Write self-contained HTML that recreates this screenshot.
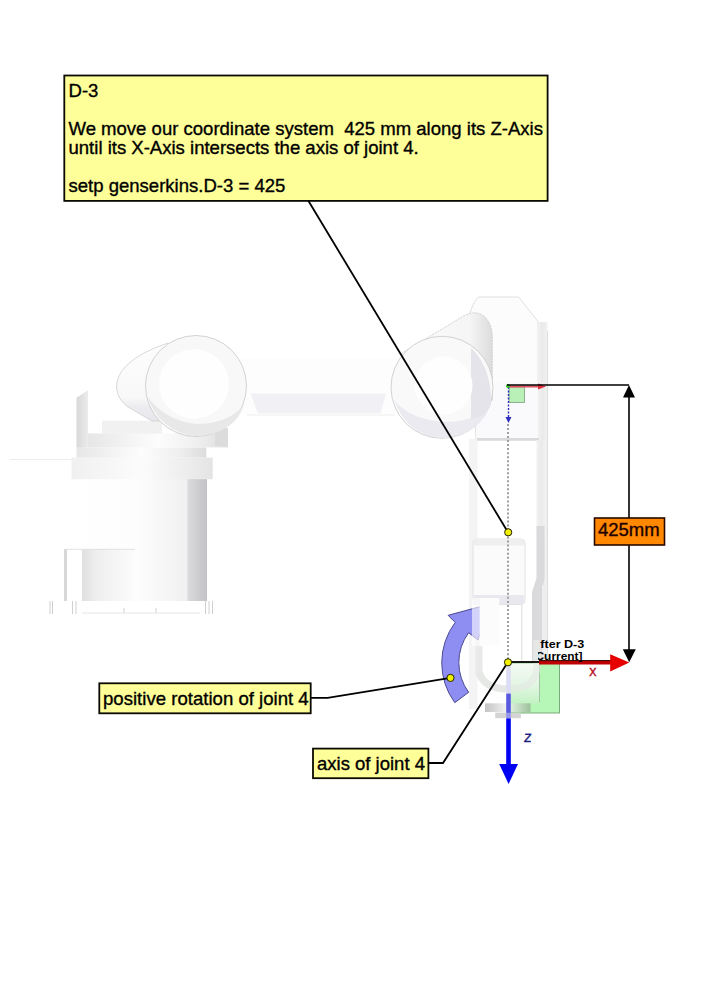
<!DOCTYPE html>
<html><head><meta charset="utf-8">
<style>
html,body{margin:0;padding:0;background:#fff;width:707px;height:1000px;overflow:hidden;}
svg{display:block;position:absolute;left:0;top:0;}
text{font-family:"Liberation Sans",sans-serif;}
</style></head><body>
<svg width="707" height="1000" viewBox="0 0 707 1000">
<defs>

<linearGradient id="colG" x1="0" x2="1" y1="0" y2="0">
  <stop offset="0" stop-color="#ffffff"/>
  <stop offset="0.5" stop-color="#fdfdfd"/>
  <stop offset="0.85" stop-color="#f0f0f0"/>
  <stop offset="0.862" stop-color="#dadadc"/>
  <stop offset="0.96" stop-color="#c9c9cd"/>
  <stop offset="1" stop-color="#c4c4c8"/>
</linearGradient>
<linearGradient id="bandG" x1="0" x2="1" y1="0" y2="0">
  <stop offset="0" stop-color="#e6e6e6"/>
  <stop offset="0.3" stop-color="#f4f4f4"/>
  <stop offset="0.5" stop-color="#fdfdfd"/>
  <stop offset="0.8" stop-color="#eeeeee"/>
  <stop offset="1" stop-color="#dcdcdc"/>
</linearGradient>
<linearGradient id="band2G" x1="0" x2="1" y1="0" y2="0">
  <stop offset="0" stop-color="#f0f0f0"/>
  <stop offset="0.5" stop-color="#fcfcfc"/>
  <stop offset="1" stop-color="#e4e4e4"/>
</linearGradient>
<linearGradient id="blkG" x1="0" x2="1" y1="0" y2="0">
  <stop offset="0" stop-color="#d8d8d8"/>
  <stop offset="0.04" stop-color="#d8d8d8"/>
  <stop offset="0.045" stop-color="#ffffff"/>
  <stop offset="0.25" stop-color="#ffffff"/>
  <stop offset="0.255" stop-color="#e0e0e0"/>
  <stop offset="0.45" stop-color="#eeeeee"/>
  <stop offset="1" stop-color="#fcfcfc"/>
</linearGradient>
<linearGradient id="brkG" x1="0" x2="1" y1="0" y2="0">
  <stop offset="0" stop-color="#d8d8d8"/>
  <stop offset="1" stop-color="#ececec"/>
</linearGradient>
<linearGradient id="armG" x1="0" x2="0" y1="0" y2="1">
  <stop offset="0" stop-color="#f7f7f7"/>
  <stop offset="1" stop-color="#e9e9e9"/>
</linearGradient>
<radialGradient id="ringG" cx="0.42" cy="0.4" r="0.6">
  <stop offset="0" stop-color="#ffffff"/>
  <stop offset="0.6" stop-color="#fbfbfb"/>
  <stop offset="1" stop-color="#eaeaea"/>
</radialGradient>
<linearGradient id="capG" x1="0" x2="0" y1="0" y2="1">
  <stop offset="0" stop-color="#fdfdfd"/>
  <stop offset="0.7" stop-color="#f8f8f8"/>
  <stop offset="0.82" stop-color="#ececf0"/>
  <stop offset="1" stop-color="#e6e6ec"/>
</linearGradient>
<linearGradient id="capRG" x1="0" x2="1" y1="0" y2="0">
  <stop offset="0" stop-color="#fdfdfd"/>
  <stop offset="0.75" stop-color="#f5f5f5"/>
  <stop offset="1" stop-color="#dcdcdc"/>
</linearGradient>
<linearGradient id="railG" x1="0" x2="1" y1="0" y2="0">
  <stop offset="0" stop-color="#f2f2f2"/>
  <stop offset="0.5" stop-color="#eaeaea"/>
  <stop offset="1" stop-color="#f2f2f2"/>
</linearGradient>
<linearGradient id="plateG" x1="0" x2="1" y1="0" y2="0">
  <stop offset="0" stop-color="#c4c4c4"/>
  <stop offset="0.45" stop-color="#efefef"/>
  <stop offset="0.6" stop-color="#d8ecd8"/>
  <stop offset="1" stop-color="#9cc09c"/>
</linearGradient>


<clipPath id="lblclip"><rect x="538" y="630" width="100" height="40"/></clipPath>
</defs>
<rect x="0" y="0" width="707" height="1000" fill="#fff"/>

<!-- ROBOT -->
<g id="robot">
<!-- faint thin line far left -->
<line x1="10" y1="459.5" x2="76" y2="459.5" stroke="#ececec" stroke-width="1"/>
<!-- middle horizontal arm -->
<rect x="240" y="358" width="160" height="57" fill="#fdfdfd"/>
<polygon points="250.6,393.4 386,393.4 380.4,413.3 257.8,413.3" fill="#f1f1f5"/>
<line x1="247" y1="415" x2="395" y2="415" stroke="#ededed" stroke-width="1"/>

<!-- LEFT BASE -->
<!-- column -->
<rect x="71" y="479" width="136" height="122" fill="url(#colG)"/>
<!-- lower block -->
<rect x="64" y="549" width="71" height="52" fill="url(#blkG)"/>
<line x1="64" y1="549.3" x2="135" y2="549.3" stroke="#e2e2e2" stroke-width="1"/>
<!-- feet -->
<g stroke="#d0d0d0" stroke-width="1">
<line x1="50" y1="601" x2="50" y2="614"/><line x1="52.5" y1="601" x2="52.5" y2="614"/>
<line x1="72.5" y1="601" x2="72.5" y2="614"/><line x1="76" y1="601" x2="76" y2="614"/>
<line x1="124" y1="608" x2="124" y2="613"/><line x1="156" y1="608" x2="156" y2="613"/>
<line x1="205.5" y1="601" x2="205.5" y2="614"/><line x1="209" y1="601" x2="209" y2="614"/><line x1="212.5" y1="601" x2="212.5" y2="614"/>
</g>
<line x1="82" y1="613" x2="200" y2="613" stroke="#e6e6e6" stroke-width="1"/>
<!-- bands -->
<rect x="71.5" y="457.6" width="141.2" height="21.6" fill="url(#band2G)"/>
<rect x="76.5" y="447.4" width="129.8" height="10.2" fill="url(#bandG)"/>
<!-- step / shoulder -->
<rect x="88" y="433.4" width="140" height="14" fill="url(#bandG)"/>
<rect x="102" y="420.7" width="60" height="13" fill="#f1f1f1"/>
<!-- bracket -->
<polygon points="76.5,397.8 88,390.2 88,447.4 76.5,447.4" fill="url(#brkG)"/>
<!-- block right of ring -->
<rect x="215" y="428" width="13" height="18" fill="#dcdcdc"/>

<!-- left capsule -->
<path d="M168,343 Q140,352 126,366 Q116,376 116.5,388 Q118,400 128,407 L152,421 L200,420 Z" fill="url(#capG)" stroke="#cfcfcf" stroke-width="0.8"/>
<!-- left ring -->
<circle cx="196" cy="386" r="50.5" fill="#f8f8f8" stroke="#c8c8c8" stroke-width="0.8"/>
<path d="M147,396 Q160,432 196,436.3 Q234,434 244,405 Q228,424 196,424 Q164,420 147,396 Z" fill="#e8e8e8"/>
<circle cx="194" cy="384" r="35" fill="#fefefe"/>

<!-- RIGHT UPPER HOUSING -->
<path d="M470,313 Q474,300 479,297 L518.6,297 L538,321.5 L538,440 L476,440 Z" fill="#fcfcfc" stroke="#e0e0e0" stroke-width="1"/>
<rect x="537.5" y="322" width="10" height="338" fill="url(#railG)"/>
<line x1="547.5" y1="331" x2="547.5" y2="660" stroke="#d6d6d6" stroke-width="0.8"/>
<rect x="476" y="382" width="62" height="56" fill="#fafafc"/>
<!-- right capsule -->
<path d="M401.5,353.5 L463,316.3 Q476,309 485,317 Q492,324 492.3,336 L492.3,400 L440,436 Z" fill="url(#capRG)" stroke="#c8c8c8" stroke-width="0.8" stroke-dasharray="2 1"/>
<!-- right ring -->
<circle cx="442" cy="387.3" r="51" fill="#f9f9fa" stroke="#c8c8c8" stroke-width="0.8"/>
<path d="M394,400 Q408,436 442,438.3 Q478,436 490,405 Q474,422 446,422 Q410,420 394,400 Z" fill="#eaeaf0"/>
<path d="M471,348 Q492,368 491,405 Q482,420 471,418 Z" fill="#e4e4ea"/>
<circle cx="443.5" cy="385.5" r="29" fill="#fefefe"/>

<!-- RIGHT LOWER ARM -->
<rect x="469" y="439" width="8.5" height="270" fill="#f4f4f4"/>
<rect x="477" y="438" width="62" height="2.6" fill="#dadada"/>
<rect x="536.5" y="440" width="9" height="100" fill="url(#railG)"/>
<path d="M536.5,526 L544.5,526 L544.5,578 L542,592 L542,662 L532,662 L532,592 L536.5,578 Z" fill="#dadadc"/>
<rect x="542" y="585" width="3" height="77" fill="#eeeeee"/>
<line x1="521.8" y1="605" x2="521.8" y2="668" stroke="#dcdcdc" stroke-width="1"/>
<!-- wrist box -->
<rect x="473" y="539" width="52" height="65.5" rx="4" fill="#fbfbfb" stroke="#e2e2e2" stroke-width="1"/>
<rect x="474" y="539.5" width="50" height="6" fill="#efefef"/>
<rect x="474" y="595" width="50" height="9" fill="#e8e8ee"/>
<!-- U shape bottom -->
<path d="M537,640 L537,668 Q535,689 508,689 Q484,689 479,672 L479,640" fill="none" stroke="#e9e9e9" stroke-width="7"/>
</g>


<!-- ANNOTATIONS -->
<g id="ann">
<!-- dotted axis line -->
<line x1="508" y1="424" x2="508" y2="660" stroke="#a0a0a0" stroke-width="2" stroke-dasharray="2 2.02"/>

<!-- small top frame -->
<rect x="509" y="387" width="15.5" height="15.5" fill="#b8f0b8" stroke="#7aa07a" stroke-width="0.8"/>
<line x1="508" y1="386.5" x2="541" y2="386.5" stroke="#e05060" stroke-width="2"/>
<path d="M538,383.5 L546,386.5 L538,389.5 Z" fill="#e03040"/>
<line x1="508.5" y1="387" x2="508.5" y2="418" stroke="#3030c0" stroke-width="1.4" stroke-dasharray="2 1.5"/>
<path d="M505.5,417 L511.5,417 L508.5,423 Z" fill="#3030c0"/>
<circle cx="508" cy="386" r="2" fill="#30c030"/>

<!-- dimension line -->
<line x1="507" y1="385" x2="629" y2="385" stroke="#000" stroke-width="1.6"/>
<line x1="629" y1="395" x2="629" y2="650" stroke="#000" stroke-width="1.6"/>
<path d="M629,385 L635,397.5 L623,397.5 Z" fill="#000"/>
<path d="M629.2,662.2 L635.8,649.3 L622.8,649.3 Z" fill="#000"/>

<!-- green frame rect -->
<defs><linearGradient id="gl" x1="0" x2="0" y1="0" y2="1"><stop offset="0" stop-color="#f4faf4"/><stop offset="0.5" stop-color="#e4f6e4"/><stop offset="1" stop-color="#c4f2c4"/></linearGradient></defs>
<rect x="508.5" y="663" width="51" height="50" fill="#b6f6b6" stroke="#72a272" stroke-width="0.9"/>
<rect x="509" y="663.5" width="30.3" height="40" fill="url(#gl)"/>
<line x1="539.5" y1="663" x2="539.5" y2="702" stroke="#9cc09c" stroke-width="0.9"/>
<path d="M537,640 L537,668 Q535,689 508,689 Q484,689 479,672" fill="none" stroke="#e4e8e4" stroke-opacity="0.6" stroke-width="7"/>
<rect x="485" y="703.3" width="45.5" height="8.7" fill="url(#plateG)"/>
<rect x="495.2" y="712.6" width="25.7" height="5.6" fill="#d4d4d4"/>

<!-- X axis -->
<line x1="508" y1="662" x2="540" y2="662" stroke="#000" stroke-width="1.8"/>
<line x1="539" y1="662.5" x2="612" y2="662.5" stroke="#c00000" stroke-width="4"/>
<line x1="539" y1="660.6" x2="612" y2="660.6" stroke="#300000" stroke-width="1"/>
<path d="M610.2,654.3 L629.3,662.5 L610.2,671.4 Z" fill="#e60000"/>
<text x="589.3" y="675.5" font-size="14.5" fill="#b8102a" stroke="#b8102a" stroke-width="0.3">x</text>

<!-- Z axis -->
<rect x="506.2" y="664" width="4.6" height="29.6" fill="#dcdcf4"/>
<rect x="506.2" y="693.6" width="4.6" height="19.3" fill="#5a5ae0"/>
<rect x="506.2" y="712.9" width="4.6" height="5.5" fill="#9494ea"/>
<rect x="506.2" y="718.4" width="4.6" height="48" fill="#0000f2"/>
<path d="M499.2,764 L518,764 L508.6,784 Z" fill="#0000f2"/>
<text x="523.4" y="742" font-size="15.5" fill="#1c1c80" stroke="#1c1c80" stroke-width="0.35" transform="skewX(-6) translate(78 0)">z</text>

<!-- label after D-3 -->
<g clip-path="url(#lblclip)">
<text x="540.3" y="647.6" font-size="10.2" font-weight="bold" fill="#000" textLength="44" lengthAdjust="spacingAndGlyphs">fter D-3</text>
<text x="535.5" y="660.3" font-size="10.2" font-weight="bold" fill="#000" textLength="47" lengthAdjust="spacingAndGlyphs">Current]</text>
</g>

<!-- rotation arrow -->
<path id="rotarrow" d="M454.77,702.63 A67.3,67.3 0 0 1 455.2,622.4 L448.1,615.3 L490,604 L478,640 L468.66,632.69 A50,50 0 0 0 468.66,692.31 Z" fill="#8e8ef2" stroke="#4a4a90" stroke-width="1"/>
<rect x="472" y="598" width="7.3" height="48" fill="#fff" fill-opacity="0.6"/>
<rect x="479.3" y="598" width="20" height="48" fill="#fcfcfc"/>

<!-- main callout -->
<rect x="64.3" y="75.5" width="483.3" height="125.4" fill="#ffff99" stroke="#0a0a00" stroke-width="1.8"/>
<g font-size="18.55" fill="#000" stroke="#000" stroke-width="0.35">
<text x="68.5" y="96.8">D-3</text>
<text x="68.5" y="135.2">We move our coordinate system &#160;425 mm along its Z-Axis</text>
<text x="68.5" y="154.2">until its X-Axis intersects the axis of joint 4.</text>
<text x="68.5" y="192.05">setp genserkins.D-3 = 425</text>
</g>
<line x1="308.5" y1="201" x2="508" y2="532.3" stroke="#000" stroke-width="1.8"/>
<circle cx="508.2" cy="532.3" r="3.6" fill="#f0f000" stroke="#202000" stroke-width="1"/>

<!-- 425mm -->
<rect x="594.5" y="518" width="70" height="27" fill="#ff8800" stroke="#2a0800" stroke-width="1.6"/>
<text x="598" y="536" font-size="18.5" fill="#200000" stroke="#200000" stroke-width="0.35">425mm</text>

<!-- positive rotation label -->
<rect x="99.3" y="683.3" width="211.4" height="30" fill="#ffff99" stroke="#0a0a00" stroke-width="1.8"/>
<text x="103" y="705.2" font-size="18.6" fill="#000" stroke="#000" stroke-width="0.35">positive rotation of joint 4</text>
<polyline points="311,697.8 327.6,697.8 450.5,677.9" fill="none" stroke="#000" stroke-width="1.8"/>
<circle cx="450.5" cy="677.9" r="3.6" fill="#f0f000" stroke="#202000" stroke-width="1"/>

<!-- axis of joint 4 label -->
<rect x="313" y="748.6" width="115.4" height="29.6" fill="#ffff99" stroke="#0a0a00" stroke-width="1.8"/>
<text x="317" y="769.9" font-size="18.5" fill="#000" stroke="#000" stroke-width="0.35">axis of joint 4</text>
<polyline points="428.5,763 443,763 508,662" fill="none" stroke="#000" stroke-width="1.8"/>
<circle cx="508" cy="662.3" r="3.6" fill="#f0f000" stroke="#202000" stroke-width="1"/>
</g>
</svg>
</body></html>
